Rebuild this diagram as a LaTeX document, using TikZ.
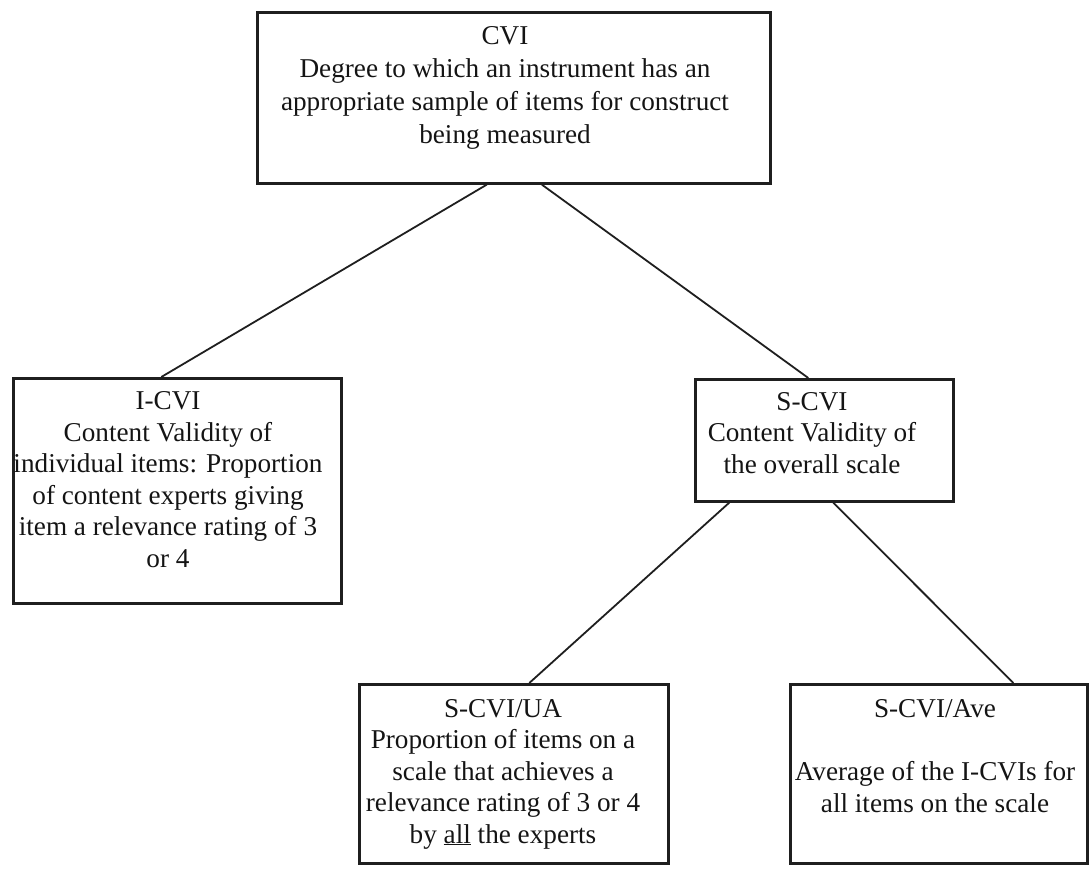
\documentclass[tikz,border=0pt]{standalone}
\usepackage{fontspec}
\setmainfont{Liberation Serif}
\usetikzlibrary{calc}
\begin{document}
\begin{tikzpicture}[x=1pt,y=-1pt,
  box/.style={draw=black!88, line width=2.6pt, inner sep=0pt, anchor=north west},
  lbl/.style={align=center, inner sep=0pt, anchor=base, text=black!92},
  body/.style={font=\fontsize{27.2}{31.5}\selectfont},
  bigbody/.style={font=\fontsize{27.2}{33}\selectfont},
  link/.style={draw=black!88, line width=1.8pt}]
\useasboundingbox (0,0) rectangle (1092,868);
% boxes
\node[box, minimum width=513pt, minimum height=171pt] (cvi) at (256,11) {};
\node[box, minimum width=328pt, minimum height=225pt] (icvi) at (12,377) {};
\node[box, minimum width=258pt, minimum height=122pt] (scvi) at (694,378) {};
\node[box, minimum width=309pt, minimum height=179pt] (ua) at (358,683) {};
\node[box, minimum width=297pt, minimum height=179pt] (ave) at (789,683) {};
% texts (anchor base = baseline of the last line)
\node[lbl, bigbody] (cvit) at (505,143) {CVI\\Degree to which an instrument has an\\appropriate sample of items for construct\\being measured};
\node[lbl, body] (icvit) at (168,567) {I-CVI\\Content Validity of\\individual items: Proportion\\of content experts giving\\item a relevance rating of 3\\or 4};
\node[lbl, body] (scvit) at (812,473) {S-CVI\\Content Validity of\\the overall scale};
\node[lbl, body] (uat) at (503,843) {S-CVI/UA\\Proportion of items on a\\scale that achieves a\\relevance rating of 3 or 4\\by \underline{all} the experts};
\node[lbl, body] (avet) at (935,812) {S-CVI/Ave\\[31.5pt]Average of the I-CVIs for\\all items on the scale};
% connectors
\draw[link] ($(cvi.south)+(-27,0)$) -- ($(icvi.north)+(-16,0)$);
\draw[link] ($(cvi.south)+(28,0)$) -- ($(scvi.north)+(-16,0)$);
\draw[link] ($(scvi.south)+(-95,0)$) -- ($(ua.north)+(15.5,0)$);
\draw[link] ($(scvi.south)+(9,0)$) -- ($(ave.north)+(74.5,0)$);
\end{tikzpicture}
\end{document}
